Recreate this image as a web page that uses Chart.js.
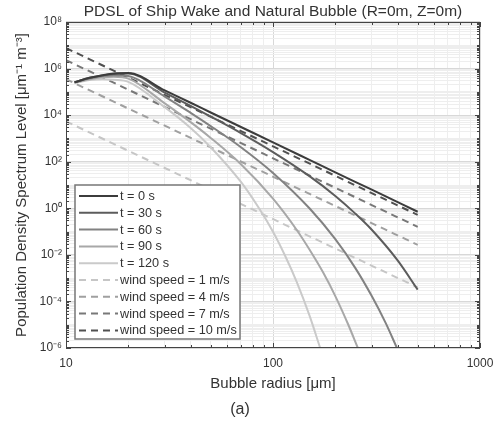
<!DOCTYPE html>
<html lang="en">
<head>
<meta charset="UTF-8">
<title>PDSL of Ship Wake and Natural Bubble</title>
<script src="https://cdn.jsdelivr.net/npm/chart.js"></script>
<style>
  html, body { margin: 0; padding: 0; background: #fff; }
  #wrap { width: 502px; height: 431px; }
</style>
</head>
<body>
<div id="wrap"><canvas id="pdsl"></canvas></div>
<script>
// bubble radius [um] and PDSL values [um^-1 m^-3]
const rT0   = [11, 13, 15, 17, 20, 30, 40, 50, 70, 100, 150, 200, 300, 500];
const pdslT0 = [2.6e5, 4.0e5, 5.2e5, 6.2e5, 6.5e5, 1.15e5, 3.4e4, 1.3e4, 3.1e3, 680, 120, 35, 6.3, 0.71];

const rT30   = [11, 13, 15, 17, 20, 30, 40, 50, 70, 100, 150, 200, 250, 300, 400, 500];
const pdslT30 = [2.6e5, 4.0e5, 5.1e5, 5.9e5, 6.2e5, 9.3e4, 2.5e4, 8.7e3, 1.7e3, 260, 24, 3.4, 0.59, 0.12, 5.8e-3, 3.2e-4];

const rT60   = [11, 13, 15, 17, 20, 30, 40, 50, 70, 100, 150, 200, 250, 300, 350, 397];
const pdslT60 = [2.6e5, 3.8e5, 4.8e5, 5.2e5, 4.8e5, 6.3e4, 1.26e4, 3.4e3, 420, 33, 1.0, 0.047, 2.7e-3, 1.7e-4, 1.2e-5, 1e-6];

const rT90   = [11, 13, 15, 17, 20, 30, 40, 50, 70, 100, 130, 150, 175, 200, 230, 257];
const pdslT90 = [2.5e5, 3.5e5, 4.2e5, 4.4e5, 3.7e5, 3.2e4, 5.0e3, 1.05e3, 78, 2.6, 0.12, 0.017, 1.7e-3, 1.7e-4, 1.1e-5, 1e-6];

const rT120   = [11, 13, 15, 17, 20, 30, 40, 50, 70, 85, 100, 115, 130, 150, 169];
const pdslT120 = [2.4e5, 3.2e5, 3.5e5, 3.3e5, 2.7e5, 2.2e4, 2.8e3, 420, 13.5, 1.1, 0.098, 8.3e-3, 7.1e-4, 2.5e-5, 1e-6];

// natural bubble spectra (straight lines on log-log axes)
const rWind = [10, 500];
const pdslWind1  = [5.4e3, 4e-4];
const pdslWind4  = [3.5e5, 0.027];
const pdslWind7  = [2.3e6, 0.16];
const pdslWind10 = [7.6e6, 0.52];

const xTickLabels = ['10', '100', '1000'];
const yTickLabels = ['10⁻⁶', '10⁻⁴', '10⁻²', '10⁰', '10²', '10⁴', '10⁶', '10⁸'];

// full tick lists incl. minor ticks (1..9 x 10^n)
const xTicks = [], xMajor = [];
for (let e = 1; e <= 2; e++) for (let m = 1; m <= 9; m++) { xTicks.push(m * Math.pow(10, e)); xMajor.push(m === 1); }
xTicks.push(1000); xMajor.push(true);
const yTicks = [], yMajor = [];
for (let e = -6; e <= 7; e++) for (let m = 1; m <= 9; m++) { yTicks.push(m * Math.pow(10, e)); yMajor.push(m === 1 && e % 2 === 0); }
yTicks.push(1e8); yMajor.push(true);

function xyPoints(xs, ys) { return xs.map((v, i) => ({x: v, y: ys[i]})); }

function solid(label, xs, ys, color) {
  return { label, data: xyPoints(xs, ys), borderColor: color, borderWidth: 2, pointRadius: 0,
           cubicInterpolationMode: 'monotone', fill: false };
}
function dashed(label, xs, ys, color) {
  return { label, data: xyPoints(xs, ys), borderColor: color, borderWidth: 2, pointRadius: 0,
           borderDash: [7, 5], fill: false };
}

const FONT = "'Liberation Sans', Arial, sans-serif";
Chart.defaults.font.family = FONT;
Chart.defaults.color = '#333';

const frameAndLegend = {
  id: 'frameAndLegend',
  afterDatasetsDraw(chart) {
    const {ctx, chartArea: a, scales: {x, y}} = chart;
    ctx.save();
    // inward tick marks on all four sides
    ctx.strokeStyle = '#444';
    ctx.lineWidth = 1;
    ctx.beginPath();
    xTicks.forEach((v, i) => {
      const px = Math.round(x.getPixelForValue(v)) + 0.5;
      const len = xMajor[i] ? 5 : 3;
      ctx.moveTo(px, a.bottom); ctx.lineTo(px, a.bottom - len);
      ctx.moveTo(px, a.top); ctx.lineTo(px, a.top + len);
    });
    yTicks.forEach((v, i) => {
      const py = Math.round(y.getPixelForValue(v)) + 0.5;
      const len = yMajor[i] ? 5 : 3;
      ctx.moveTo(a.left, py); ctx.lineTo(a.left + len, py);
      ctx.moveTo(a.right, py); ctx.lineTo(a.right - len, py);
    });
    ctx.stroke();
    ctx.strokeRect(Math.round(a.left) + 0.5, Math.round(a.top) + 0.5, Math.round(a.width) - 1, Math.round(a.height) - 1);

    // legend box, lower left inside the axes
    const bx = 75, by = 185, bw = 165, bh = 154, row = 16.8;
    ctx.fillStyle = '#fff';
    ctx.fillRect(bx, by, bw, bh);
    ctx.strokeStyle = '#777';
    ctx.lineWidth = 1.5;
    ctx.strokeRect(bx, by, bw, bh);
    ctx.font = '12.7px ' + FONT;
    ctx.textBaseline = 'middle';
    chart.data.datasets.forEach((ds, i) => {
      const ly = by + 11 + i * row;
      ctx.strokeStyle = ds.borderColor;
      ctx.lineWidth = ds.borderWidth;
      ctx.setLineDash(ds.borderDash || []);
      ctx.beginPath();
      ctx.moveTo(bx + 4, ly); ctx.lineTo(bx + 43, ly);
      ctx.stroke();
      ctx.setLineDash([]);
      ctx.fillStyle = '#333';
      ctx.fillText(ds.label, bx + 45, ly + 0.5);
    });
    ctx.restore();
  }
};

new Chart(document.getElementById('pdsl'), {
  type: 'line',
  data: {
    datasets: [
      solid('t = 0 s', rT0, pdslT0, '#3c3c3c'),
      solid('t = 30 s', rT30, pdslT30, '#5c5c5c'),
      solid('t = 60 s', rT60, pdslT60, '#828282'),
      solid('t = 90 s', rT90, pdslT90, '#a8a8a8'),
      solid('t = 120 s', rT120, pdslT120, '#cacaca'),
      dashed('wind speed = 1 m/s', rWind, pdslWind1, '#c6c6c6'),
      dashed('wind speed = 4 m/s', rWind, pdslWind4, '#a0a0a0'),
      dashed('wind speed = 7 m/s', rWind, pdslWind7, '#787878'),
      dashed('wind speed = 10 m/s', rWind, pdslWind10, '#505050')
    ]
  },
  options: {
    responsive: true,
    maintainAspectRatio: false,
    animation: false,
    layout: { padding: { left: 0, right: 22, top: 0, bottom: 0 } },
    plugins: {
      legend: { display: false },
      tooltip: { enabled: false },
      title: {
        display: true, fullSize: false,
        text: 'PDSL of Ship Wake and Natural Bubble (R=0m, Z=0m)',
        font: { size: 15.5, weight: 'normal' }, color: '#333',
        padding: { top: 2, bottom: 1.4 }
      },
      subtitle: {
        display: true, position: 'bottom', text: '(a)',
        font: { size: 16, weight: 'normal' }, color: '#333',
        padding: { top: 5, bottom: 11.8 }
      }
    },
    scales: {
      x: {
        type: 'logarithmic', min: 10, max: 1000,
        afterBuildTicks: s => { s.ticks = xTicks.map(v => ({ value: v })); },
        afterFit: s => { s.height = 47; },
        ticks: {
          autoSkip: false, maxRotation: 0, padding: 8, font: { size: 12 }, color: '#333',
          callback: (v, i) => xMajor[i] ? xTickLabels[[10, 100, 1000].indexOf(v)] : ''
        },
        grid: { drawTicks: false, color: c => xMajor[c.index] ? '#d8d8d8' : '#eeeeee' },
        border: { display: false },
        title: { display: true, text: 'Bubble radius [μm]', font: { size: 15 }, color: '#333', padding: { top: 0, bottom: 2 } }
      },
      y: {
        type: 'logarithmic', min: 1e-6, max: 1e8,
        afterBuildTicks: s => { s.ticks = yTicks.map(v => ({ value: v })); },
        afterFit: s => { s.width = 66; },
        ticks: {
          autoSkip: false, padding: 4, font: { size: 12 }, color: '#333',
          callback: (v, i) => yMajor[i] ? yTickLabels[(i === yTicks.length - 1) ? 7 : Math.floor(i / 18)] : ''
        },
        grid: { drawTicks: false, color: c => yMajor[c.index] ? '#d8d8d8' : '#eeeeee' },
        border: { display: false },
        title: { display: true, text: 'Population Density Spectrum Level [μm⁻¹ m⁻³]', font: { size: 15 }, color: '#333', padding: { top: 13, bottom: 0 } }
      }
    }
  },
  plugins: [frameAndLegend]
});
</script>
</body>
</html>
